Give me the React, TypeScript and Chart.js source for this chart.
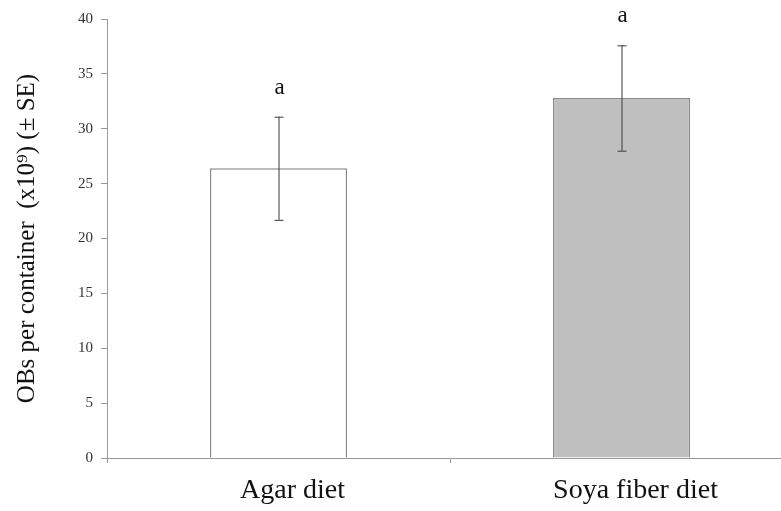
import React, { useEffect, useRef } from "react";
import { Chart, registerables } from "chart.js";

Chart.register(...registerables);

const categories = ["Agar diet", "Soya fiber diet"];
const means = [26.4, 32.8];
const stdErrors = [4.7, 4.8];
const sigLetters = ["a", "a"];
const barFills = ["#ffffff", "#bfbfbf"];
const yTicks = [0, 5, 10, 15, 20, 25, 30, 35, 40];

const FONT = "'Liberation Serif', 'Times New Roman', serif";

const errorBarPlugin = {
  id: "errorBars",
  afterDatasetsDraw(chart: any) {
    const ctx = chart.ctx;
    const meta = chart.getDatasetMeta(0);
    const y = chart.scales.y;
    ctx.save();
    meta.data.forEach((bar: any, i: number) => {
      const x = bar.x;
      const top = y.getPixelForValue(means[i] + stdErrors[i]);
      const bot = y.getPixelForValue(means[i] - stdErrors[i]);
      ctx.strokeStyle = "#3a3a3a";
      ctx.lineWidth = 1;
      ctx.beginPath();
      ctx.moveTo(x + 0.5, top);
      ctx.lineTo(x + 0.5, bot);
      ctx.moveTo(x - 4, top + 0.5);
      ctx.lineTo(x + 5, top + 0.5);
      ctx.moveTo(x - 4, bot + 0.5);
      ctx.lineTo(x + 5, bot + 0.5);
      ctx.stroke();
      ctx.fillStyle = "#111";
      ctx.font = `23px ${FONT}`;
      ctx.textAlign = "center";
      ctx.textBaseline = "alphabetic";
      ctx.fillText(sigLetters[i], x + 1, top - 23);
    });
    ctx.restore();
  },
};

export default function App() {
  const ref = useRef<HTMLCanvasElement | null>(null);
  useEffect(() => {
    if (!ref.current) return;
    const chart = new Chart(ref.current, {
      type: "bar",
      data: {
        labels: categories,
        datasets: [
          {
            data: means,
            backgroundColor: barFills,
            borderColor: "#8a8a8a",
            borderWidth: 1.5,
            categoryPercentage: 1,
            barPercentage: 0.4,
          },
        ],
      },
      options: {
        animation: false,
        responsive: false,
        layout: { padding: { top: 19, right: 7, left: 0, bottom: 0 } },
        plugins: { legend: { display: false }, tooltip: { enabled: false } },
        scales: {
          x: {
            grid: {
              display: true,
              drawOnChartArea: false,
              drawTicks: true,
              tickLength: 5,
              color: "#999",
              offset: true,
            },
            border: { display: true, color: "#999", width: 1 },
            ticks: {
              font: { family: FONT, size: 28 },
              color: "#111",
              padding: 11,
              labelOffset: 14,
            },
            afterFit: (s: any) => {
              s.height = 53;
            },
          },
          y: {
            min: 0,
            max: 40,
            afterBuildTicks: (s: any) => {
              s.ticks = yTicks.map((v) => ({ value: v }));
            },
            grid: {
              display: true,
              drawOnChartArea: false,
              drawTicks: true,
              tickLength: 6,
              color: "#999",
            },
            border: { display: true, color: "#999", width: 1 },
            ticks: {
              font: { family: FONT, size: 15 },
              color: "#333",
              padding: 8,
            },
            title: {
              display: true,
              text: "OBs per container  (x10⁹) (± SE)",
              font: { family: FONT, size: 25 },
              color: "#111",
              padding: { top: 12, bottom: 0 },
            },
            afterFit: (s: any) => {
              s.width = 107;
            },
          },
        },
      },
      plugins: [errorBarPlugin],
    });
    return () => chart.destroy();
  }, []);
  return (
    <div
      style={{
        position: "fixed",
        left: 0,
        top: 0,
        width: 781,
        height: 511,
        overflow: "hidden",
        background: "#fff",
      }}
    >
      <canvas ref={ref} width={800} height={511} style={{ display: "block" }} />
    </div>
  );
}
